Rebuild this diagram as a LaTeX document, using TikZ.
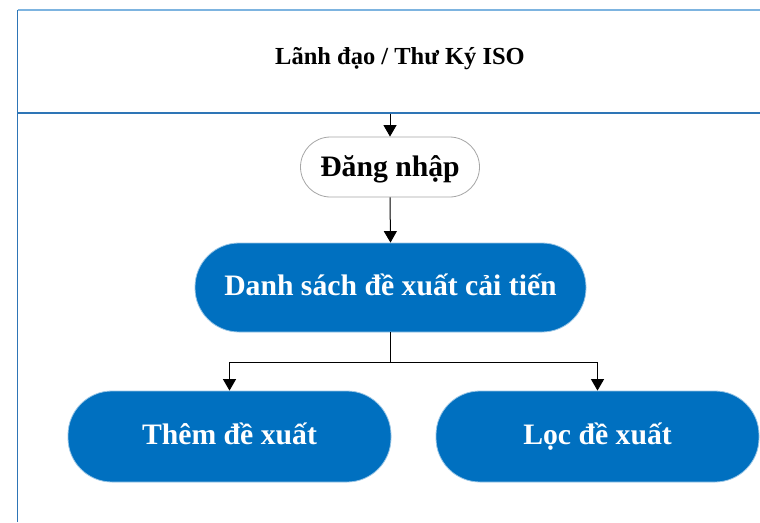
\documentclass[tikz,border=0pt]{standalone}
\usepackage{fontspec}
\setmainfont{Liberation Serif}
\usetikzlibrary{arrows.meta}
\definecolor{lanefg}{HTML}{2E75B6}
\definecolor{lanetop}{HTML}{7DB4E0}
\definecolor{boxblue}{HTML}{0070C0}
\definecolor{boxgray}{HTML}{A6A6A6}
\begin{document}
\begin{tikzpicture}[x=1pt,y=-1pt,
  boxtext/.style={font=\fontsize{29.7}{34}\selectfont\bfseries, inner sep=0pt, text height=21pt, text depth=6pt},
  bluebox/.style={boxtext, rectangle, rounded corners=44pt, fill=boxblue, draw=boxblue!40!white, line width=0.8pt,
    text=white},
  whitebox/.style={boxtext, rectangle, rounded corners=30pt, fill=white, draw=boxgray, line width=0.8pt,
    text=black, text height=24.5pt},
  conn/.style={draw=black, line width=1pt, -{Triangle[width=13pt,length=11.5pt]}},
  plainconn/.style={draw=black, line width=1pt}]
\useasboundingbox (0,0) rectangle (760,522);
\fill[white] (0,0) rectangle (760,522);
% lane frame
\draw[lanetop, line width=1.4pt] (17.5,10) -- (760,10);
\draw[lanefg, line width=1.4pt] (17.5,10) -- (17.5,522);
\draw[lanefg, line width=1.4pt] (17.5,113) -- (760,113);
\node[font=\fontsize{24.5}{28}\selectfont\bfseries, anchor=base] (title) at (400,64) {Lãnh đạo / Thư Ký ISO};
\coordinate (lanetopin) at (390,113.7);
% nodes
\node[whitebox, minimum width=179pt, minimum height=60pt] (dang) at (390,167) {Đăng nhập};
\node[bluebox, minimum width=391pt, minimum height=89pt] (ds) at (390.5,287.5) {Danh sách đề xuất cải tiến};
\node[bluebox, minimum width=323pt, minimum height=91pt] (them) at (229.5,436.5) {Thêm đề xuất};
\node[bluebox, minimum width=323pt, minimum height=91pt] (loc) at (597.5,436.5) {Lọc đề xuất};
\coordinate (split) at (390.5,362);
% connectors
\draw[conn] (lanetopin) -- (dang.north);
\draw[conn] (dang.south) -- (ds.north);
\draw[plainconn] (ds.south) -- (split);
\draw[conn] (split) -| (them.north);
\draw[conn] (split) -| (loc.north);
\end{tikzpicture}
\end{document}
